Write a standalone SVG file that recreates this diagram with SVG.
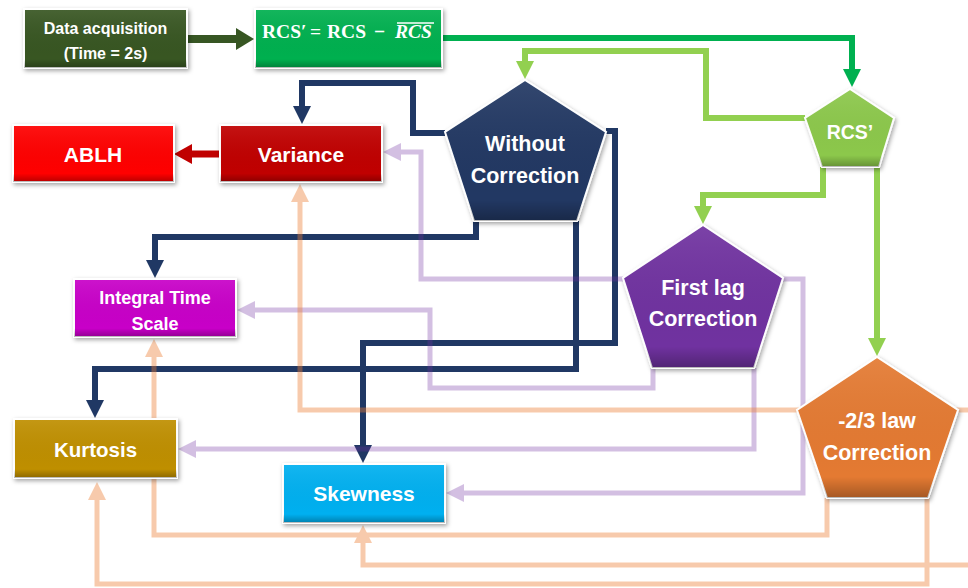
<svg xmlns="http://www.w3.org/2000/svg" width="968" height="588" viewBox="0 0 968 588">
<style>
.t{font-family:"Liberation Sans",Arial,sans-serif;font-weight:bold;fill:#fff;text-anchor:middle}
.f{font-family:"Liberation Serif","Times New Roman",serif;font-weight:bold;fill:#fff;font-size:19.5px}
.box{stroke:#fff;stroke-width:2;filter:url(#sh)}
.ln{fill:none;stroke-linejoin:miter}
</style>
<defs>
<filter id="sh" x="-15%" y="-15%" width="135%" height="140%"><feDropShadow dx="1.5" dy="2" stdDeviation="2" flood-color="#000" flood-opacity="0.35"/></filter>
<linearGradient id="gl" x1="0" y1="0" x2="0" y2="1"><stop offset="0" stop-color="#fff" stop-opacity="0.08"/><stop offset="0.85" stop-color="#000" stop-opacity="0"/><stop offset="1" stop-color="#000" stop-opacity="0.28"/></linearGradient>
<marker id="aN" markerUnits="userSpaceOnUse" markerWidth="18" markerHeight="18" viewBox="0 0 18 18" refX="8" refY="9" orient="auto"><path d="M0,0L18,9L0,18z" fill="#203864"/></marker>
<marker id="aG" markerUnits="userSpaceOnUse" markerWidth="18" markerHeight="18" viewBox="0 0 18 18" refX="8" refY="9" orient="auto"><path d="M0,0L18,9L0,18z" fill="#00B050"/></marker>
<marker id="aL" markerUnits="userSpaceOnUse" markerWidth="18" markerHeight="18" viewBox="0 0 18 18" refX="8" refY="9" orient="auto"><path d="M0,0L18,9L0,18z" fill="#92D050"/></marker>
<marker id="aO" markerUnits="userSpaceOnUse" markerWidth="18" markerHeight="22" viewBox="0 0 18 22" refX="8" refY="11" orient="auto"><path d="M0,0L18,11L0,22z" fill="#375623"/></marker>
<marker id="aR" markerUnits="userSpaceOnUse" markerWidth="18" markerHeight="20" viewBox="0 0 18 20" refX="8" refY="10" orient="auto"><path d="M0,0L18,10L0,20z" fill="#C00000"/></marker>
<marker id="aP" markerUnits="userSpaceOnUse" markerWidth="18" markerHeight="18" viewBox="0 0 18 18" refX="8" refY="9" orient="auto"><path d="M0,0L18,9L0,18z" fill="#7030A0"/></marker>
<marker id="aE" markerUnits="userSpaceOnUse" markerWidth="18" markerHeight="18" viewBox="0 0 18 18" refX="8" refY="9" orient="auto"><path d="M0,0L18,9L0,18z" fill="#ED7D31"/></marker>
</defs>
<rect width="968" height="588" fill="#fff"/>
<g id="connectors">
<g class="ln" stroke="#203864" stroke-width="6" marker-end="url(#aN)">
<path d="M445,133H413V83H302V114"/>
<path d="M476,221V237H155V268"/>
<path d="M606,131H615V343H363V453"/>
<path d="M576,221V369H95V408"/>
</g>
<path class="ln" d="M442,38H852V77" stroke="#00B050" stroke-width="6" marker-end="url(#aG)"/>
<g class="ln" stroke="#92D050" stroke-width="6" marker-end="url(#aL)">
<path d="M805,118H706V51H525V69"/>
<path d="M823,167V195H703V214"/>
<path d="M877,167V346"/>
</g>
<path class="ln" d="M187,39H244" stroke="#375623" stroke-width="8" marker-end="url(#aO)"/>
<path class="ln" d="M220,154H184" stroke="#C00000" stroke-width="7" marker-end="url(#aR)"/>
<g opacity="0.3" class="ln" stroke="#7030A0" stroke-width="5" marker-end="url(#aP)">
<path d="M623,279H421V152H393"/>
<path d="M653,368V388H430V310H247"/>
<path d="M754,368V449H188"/>
<path d="M783,279H803V493H456"/>
</g>
<g opacity="0.4" class="ln" stroke="#ED7D31" stroke-width="5" marker-end="url(#aE)">
<path d="M968,410H300V194"/>
<path d="M827,498V535H154V349"/>
<path d="M927,498V584H97V492"/>
<path d="M968,565H363V535"/>
</g>
</g>
<g id="data-acquisition">
<rect class="box" x="24" y="9" width="163" height="59" fill="#375623"/>
<rect x="24" y="9" width="163" height="59" fill="url(#gl)"/>
<text class="t" x="105.5" y="33.5" font-size="16">Data acquisition</text>
<text class="t" x="105.5" y="59" font-size="16">(Time = 2s)</text>
</g>
<g id="rcs-formula">
<rect class="box" x="255" y="9" width="187" height="59" fill="#00B050"/>
<rect x="255" y="9" width="187" height="59" fill="url(#gl)"/>
<text class="f" y="38"><tspan x="262">RCS′</tspan><tspan x="310">=</tspan><tspan x="327">RCS</tspan><tspan x="374">−</tspan><tspan x="395" font-style="italic">RCS</tspan></text>
<line x1="397" y1="23" x2="434" y2="23" stroke="#fff" stroke-width="1.6"/>
</g>
<g id="ablh">
<rect class="box" x="13" y="125" width="161" height="57" fill="#FF0000"/>
<rect x="13" y="125" width="161" height="57" fill="url(#gl)"/>
<text class="t" x="93" y="161.5" font-size="21">ABLH</text>
</g>
<g id="variance">
<rect class="box" x="220" y="125" width="162" height="57" fill="#C00000"/>
<rect x="220" y="125" width="162" height="57" fill="url(#gl)"/>
<text class="t" x="301" y="162" font-size="21">Variance</text>
</g>
<g id="integral-time-scale">
<rect class="box" x="74" y="279" width="162" height="58" fill="#C800C8"/>
<rect x="74" y="279" width="162" height="58" fill="url(#gl)"/>
<text class="t" x="155" y="303.5" font-size="18">Integral Time</text>
<text class="t" x="155" y="329.5" font-size="18">Scale</text>
</g>
<g id="kurtosis">
<rect class="box" x="14" y="419" width="163" height="59" fill="#BF8F00"/>
<rect x="14" y="419" width="163" height="59" fill="url(#gl)"/>
<text class="t" x="95.5" y="456.5" font-size="20.5">Kurtosis</text>
</g>
<g id="skewness">
<rect class="box" x="283" y="464" width="162" height="59" fill="#00B0F0"/>
<rect x="283" y="464" width="162" height="59" fill="url(#gl)"/>
<text class="t" x="364" y="501" font-size="21">Skewness</text>
</g>
<g id="without-correction">
<polygon class="box" points="525,80 606,132 577,221 474,221 445,132" fill="#203864"/>
<polygon points="525,80 606,132 577,221 474,221 445,132" fill="url(#gl)"/>
<text class="t" x="525" y="150.5" font-size="21.5">Without</text>
<text class="t" x="525" y="182.5" font-size="21.5">Correction</text>
</g>
<g id="rcs-prime">
<polygon class="box" points="850,89 894,118 879,167 822,167 805,118" fill="#8CC84B"/>
<polygon points="850,89 894,118 879,167 822,167 805,118" fill="url(#gl)"/>
<text class="t" x="850" y="139" font-size="19.5">RCS’</text>
</g>
<g id="first-lag-correction">
<polygon class="box" points="703,225 783,278 754,368 652,368 623,278" fill="#7030A0"/>
<polygon points="703,225 783,278 754,368 652,368 623,278" fill="url(#gl)"/>
<text class="t" x="703" y="294.5" font-size="21.5">First lag</text>
<text class="t" x="703" y="325.5" font-size="21.5">Correction</text>
</g>
<g id="law-correction">
<polygon class="box" points="877,357 958,410 928,498 827,498 797,410" fill="#E47A31"/>
<polygon points="877,357 958,410 928,498 827,498 797,410" fill="url(#gl)"/>
<text class="t" x="877" y="427.5" font-size="21.5">-2/3 law</text>
<text class="t" x="877" y="459.5" font-size="21.5">Correction</text>
</g>
</svg>
